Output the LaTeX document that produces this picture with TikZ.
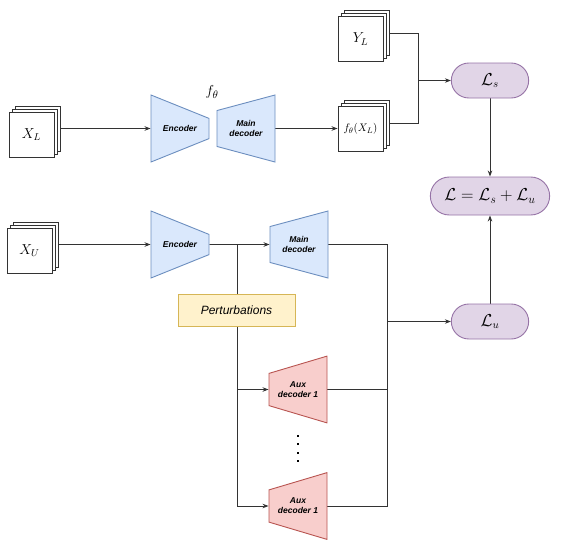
\documentclass[tikz,border=0pt]{standalone}
\usepackage{fontspec}
\setsansfont{Liberation Sans}
\usetikzlibrary{arrows.meta, positioning, shapes.geometric, shapes.misc, shadows, backgrounds}
\definecolor{encblue}{HTML}{DAE8FC}
\definecolor{encline}{HTML}{6C8EBF}
\definecolor{auxred}{HTML}{F8CECC}
\definecolor{auxline}{HTML}{B85450}
\definecolor{losspurple}{HTML}{E1D5E7}
\definecolor{lossline}{HTML}{9673A6}
\definecolor{pertyellow}{HTML}{FFF2CC}
\definecolor{pertline}{HTML}{D6B656}
\definecolor{wire}{HTML}{333333}

\tikzset{
  stack/.style={draw=wire, fill=white, line width=0.9pt, minimum width=45, minimum height=45,
    inner sep=0, font=\fontsize{14}{16}\selectfont,
    double copy shadow={shadow xshift=3pt, shadow yshift=3pt}},
  % trapezium sizes are given before the border rotation
  net/.style={trapezium, trapezium stretches=true, trapezium left angle=78, trapezium right angle=78,
    minimum width=67, minimum height=58, line width=0.9pt, inner sep=0, align=center,
    font=\fontsize{8.5}{10}\sffamily\bfseries\itshape},
  enc/.style={net, shape border rotate=270, fill=encblue, draw=encline},
  dec/.style={net, shape border rotate=90, fill=encblue, draw=encline},
  aux/.style={net, shape border rotate=90, fill=auxred, draw=auxline},
  loss/.style={rounded rectangle, fill=losspurple, draw=lossline, line width=0.9pt,
    minimum width=84, minimum height=35, font=\fontsize{16}{18}\selectfont},
  line/.style={draw=wire, line width=0.9pt},
  arr/.style={line, -{Stealth[length=6pt, width=4.5pt]}}
}

\begin{document}
\begin{tikzpicture}[x=1pt, y=-1pt]
  \useasboundingbox (0,0) rectangle (563,550);

  % labelled data
  \node[stack] (XL) at (31.5,134.5) {$X_L$};
  \node[enc] (encL) at (180,128.5) {Encoder};
  \node[dec] (decL) at (246,128.5) {Main\\decoder};
  \node[font=\fontsize{15}{17}\selectfont] (ftheta) at (212,92) {$f_\theta$};
  \node[stack] (YL) at (360.5,39) {$Y_L$};
  \node[stack, font=\fontsize{11}{13}\selectfont] (fXL) at (360.5,129) {$f_\theta(X_L)$};

  % losses
  \node[loss] (Ls) at (490,80.5) {$\mathcal{L}_s$};
  \node[loss, minimum width=126, minimum height=38, font=\fontsize{18}{20}\selectfont] (L) at (490,196)
    {$\mathcal{L} = \mathcal{L}_s + \mathcal{L}_u$};
  \node[loss] (Lu) at (490,321.5) {$\mathcal{L}_u$};

  % unlabelled data
  \node[stack] (XU) at (29.5,250.5) {$X_U$};
  \node[enc] (encU) at (180,244.5) {Encoder};
  \node[dec] (decU) at (299,244.5) {Main\\decoder};
  \node[rectangle, fill=pertyellow, draw=pertline, line width=0.9pt, minimum width=117, minimum height=32,
    font=\fontsize{12}{14}\sffamily\itshape] (pert) at (236.5,310) {Perturbations};
  \node[aux] (aux1) at (298,389.5) {Aux\\decoder 1};
  \node[aux] (aux2) at (298,506) {Aux\\decoder 1};
  \foreach \y in {435,443,452,460}
    \fill[black] (297,\y) rectangle ++(2,2);

  \coordinate (jS) at (418,80.5);
  \coordinate (jP) at (237,244.5);
  \coordinate (jU) at (387,321.5);

  \begin{scope}[on background layer]
    \draw[arr] ([shift={(6pt,6pt)}]XL.east) -- (encL.west);
    \draw[arr] (decL.east) -- (decL.east -| fXL.west);
    \draw[line] ([shift={(6pt,6pt)}]YL.east) -| (jS);
    \draw[line] ([shift={(6pt,6pt)}]fXL.east) -| (jS);
    \draw[arr] (jS) -- (Ls.west);
    \draw[arr] (Ls.south) -- (L.north);
    \draw[arr] (Lu.north) -- (L.south);

    \draw[arr] ([shift={(6pt,6pt)}]XU.east) -- (encU.west);
    \draw[arr] (encU.east) -- (decU.west);
    \draw[line] (jP) -- (pert.north -| jP);
    \draw[arr] (pert.south -| jP) |- (aux2.west);
    \draw[arr] (jP |- aux1.west) -- (aux1.west);
    \draw[line] (decU.east) -| (jU);
    \draw[line] (aux1.east) -| (jU);
    \draw[line] (aux2.east) -| (jU);
    \draw[arr] (jU) -- (Lu.west);
  \end{scope}
\end{tikzpicture}
\end{document}
